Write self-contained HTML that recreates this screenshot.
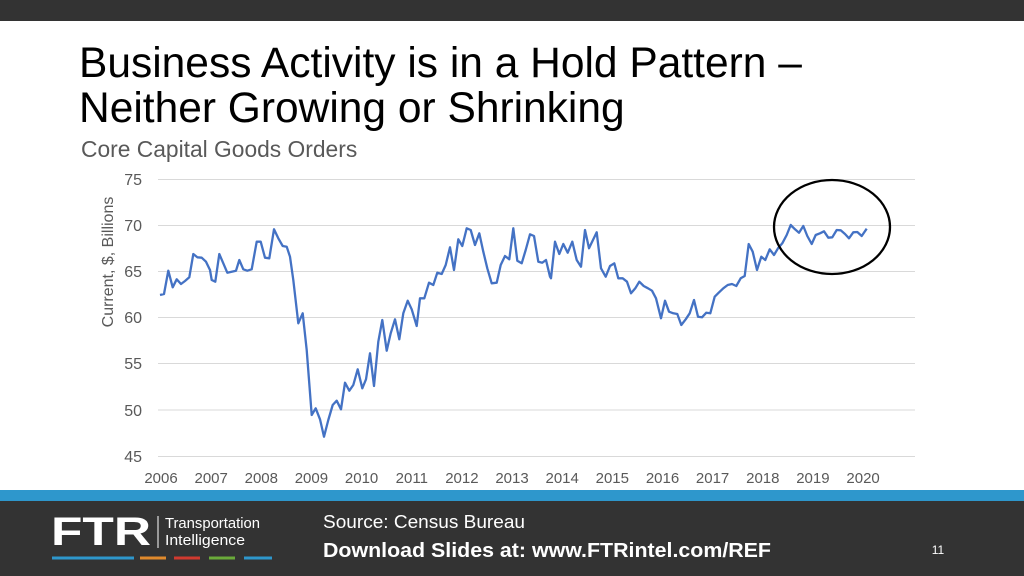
<!DOCTYPE html>
<html><head><meta charset="utf-8"><style>
html,body{margin:0;padding:0;width:1024px;height:576px;overflow:hidden;background:#fff;font-family:"Liberation Sans",sans-serif}
</style></head><body>
<svg width="1024" height="576" xmlns="http://www.w3.org/2000/svg" font-family="Liberation Sans, sans-serif">
<rect x="0" y="0" width="1024" height="21" fill="#333333"/>
<text x="79" y="77" font-size="42.5" fill="#000">Business Activity is in a Hold Pattern –</text>
<text x="79" y="122" font-size="42.5" fill="#000">Neither Growing or Shrinking</text>
<text x="81" y="157" font-size="22.8" fill="#595959">Core Capital Goods Orders</text>
<g stroke="#d9d9d9" stroke-width="1">
<line x1="158" x2="915" y1="179.5" y2="179.5"/>
<line x1="158" x2="915" y1="225.5" y2="225.5"/>
<line x1="158" x2="915" y1="271.5" y2="271.5"/>
<line x1="158" x2="915" y1="317.5" y2="317.5"/>
<line x1="158" x2="915" y1="363.5" y2="363.5"/>
<line x1="158" x2="915" y1="410" y2="410"/>
<line x1="158" x2="915" y1="456.5" y2="456.5"/>
</g>
<g font-size="16" fill="#595959" text-anchor="end">
<text x="142" y="185">75</text><text x="142" y="231">70</text><text x="142" y="277">65</text>
<text x="142" y="323">60</text><text x="142" y="369">55</text><text x="142" y="416">50</text><text x="142" y="462">45</text>
</g>
<text transform="translate(113,262) rotate(-90)" font-size="16" fill="#595959" text-anchor="middle">Current, $, Billions</text>
<g font-size="15" fill="#595959" text-anchor="middle" id="xl"></g>
<polyline id="ln" fill="none" stroke="#4472c4" stroke-width="2.3" stroke-linejoin="round"/>
<ellipse cx="832" cy="227" rx="58" ry="47" fill="none" stroke="#000" stroke-width="2.3"/>
<rect x="0" y="490" width="1024" height="11" fill="#2e97cc"/>
<rect x="0" y="501" width="1024" height="75" fill="#333333"/>
<text x="51" y="545" font-size="40" font-weight="bold" fill="#fff" textLength="100" lengthAdjust="spacingAndGlyphs">FTR</text>
<line x1="158" y1="516" x2="158" y2="548" stroke="#fff" stroke-width="1"/>
<text x="165" y="528" font-size="14.5" fill="#fff" textLength="95" lengthAdjust="spacingAndGlyphs">Transportation</text>
<text x="165" y="545" font-size="14.5" fill="#fff" textLength="80" lengthAdjust="spacingAndGlyphs">Intelligence</text>
<g stroke-width="3"><line x1="52" x2="134" y1="558" y2="558" stroke="#2e97cc"/>
<line x1="140" x2="166" y1="558" y2="558" stroke="#e08a2c"/>
<line x1="174" x2="200" y1="558" y2="558" stroke="#d03a2f"/>
<line x1="209" x2="235" y1="558" y2="558" stroke="#6aaa3a"/>
<line x1="244" x2="272" y1="558" y2="558" stroke="#2e97cc"/></g>
<text x="323" y="528" font-size="18" fill="#fff" textLength="202" lengthAdjust="spacingAndGlyphs">Source: Census Bureau</text>
<text x="323" y="557" font-size="20" font-weight="bold" fill="#fff" textLength="448" lengthAdjust="spacingAndGlyphs">Download Slides at: www.FTRintel.com/REF</text>
<text x="938" y="554" font-size="12" fill="#fff" text-anchor="middle">11</text>
</svg>
<script>
var z1=[[30,375],[42,372],[55,302],[68,352],[80,328],[93,342],[105,333],[118,322],[130,252],[142,262],[155,263],[168,275],[180,300],[185,330],[196,335],[208,252],[220,280],[232,308],[245,305],[258,302],[268,270],[280,298],[292,302],[305,298],[320,215],[332,215],[345,263],[358,265],[372,178],[385,205],[398,228],[410,230],[420,260],[430,330],[445,460],[458,430],[470,540],[485,735],[497,715],[510,748],[522,800],[535,750],[548,705],[560,692],[573,718],[585,638],[598,662],[610,645],[623,598],[637,655],[648,628],[660,550],[672,648],[685,515],[697,450],[710,542],[722,490],[735,448],[748,508],[760,430],[773,392],[785,418],[800,468],[810,385],[823,385],[837,338],[850,345],[862,308],[875,312],[887,285],[900,232],[912,300],[925,208],[937,228],[950,175],[962,180],[975,225],[988,190],[1000,245],[1012,295],[1025,340],[1040,338],[1052,285],[1065,258],[1078,268],[1090,175],[1102,272],[1115,280],[1127,240],[1140,193],[1152,198],[1165,275],[1177,278],[1188,270],[1200,320]];
var z2=[[153,325],[165,215],[178,252],[190,222],[203,248],[217,215],[230,270],[243,290],[255,180],[267,235],[290,187],[303,295],[317,320],[330,288],[343,280],[355,325],[368,325],[381,335],[393,370],[406,355],[418,335],[431,348],[444,355],[456,362],[468,385],[483,445],[495,392],[507,425],[520,430],[532,432],[544,465],[557,448],[569,430],[582,390],[594,440],[606,442],[619,428],[631,430],[644,380],[656,368],[670,355],[683,345],[696,342],[709,348],[722,325],[734,318],[746,222],[758,245],[771,300],[784,260],[796,270],[809,238],[822,255],[834,235],[847,220],[860,195],[872,165],[885,178],[897,188],[910,168],[922,198],[935,222],[947,195],[960,190],[972,184],[985,203],[997,202],[1010,180],[1022,181],[1035,192],[1047,205],[1060,187],[1072,186],[1085,198],[1100,176]];
var p=[];z1.forEach(function(a){p.push((150+a[0]/3).toFixed(1)+","+(170+a[1]/3).toFixed(1))});
z2.forEach(function(a){p.push((500+a[0]/3).toFixed(1)+","+(170+a[1]/3).toFixed(1))});
document.getElementById('ln').setAttribute('points',p.join(' '));
var g=document.getElementById('xl'),s='';
for(var i=0;i<15;i++){s+='<text x="'+(161+i*50.15).toFixed(1)+'" y="483">'+(2006+i)+'</text>';}
g.innerHTML=s;
</script>
</body></html>
